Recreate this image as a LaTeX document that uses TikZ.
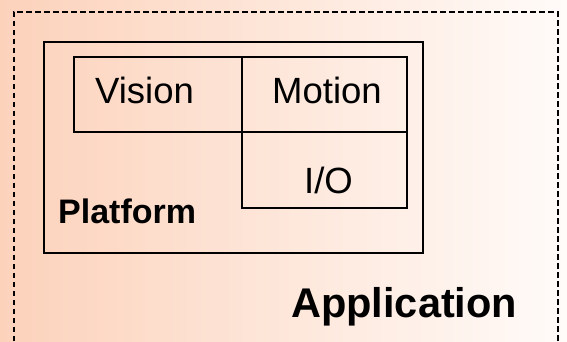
\documentclass[tikz,border=0pt]{standalone}
\usepackage{fontspec}
\setmainfont{Liberation Sans}
\definecolor{peach}{RGB}{252,210,187}
\definecolor{blush}{RGB}{255,251,249}
\begin{document}
\begin{tikzpicture}[x=1pt,y=-1pt,
		box/.style={rectangle,draw,line width=2.2pt,inner sep=0pt,anchor=north west},
		appbox/.style={rectangle,draw,dash pattern=on 5.5pt off 3.5pt,line width=1.8pt,inner sep=0pt,anchor=north west},
		lbl/.style={inner sep=0pt,anchor=base west,font=\fontsize{36.5}{40}\selectfont},
		title lbl/.style={lbl,font=\fontsize{34}{40}\selectfont\bfseries}]
\useasboundingbox (0,0) rectangle (567,342);
\shade[left color=peach,right color=blush] (0,0) rectangle (567,342);
% outer application frame (runs off the bottom)
\node[appbox,minimum width=544pt,minimum height=370pt] (app) at (13,11) {};
% platform and its parts
\node[box,minimum width=379pt,minimum height=211pt] (platform) at (43,41) {};
\node[box,minimum width=168pt,minimum height=75pt] (vision) at (73,56) {};
\node[box,minimum width=165pt,minimum height=75pt] (motion) at (241,56) {};
\node[box,minimum width=165pt,minimum height=76pt] (io) at (241,131) {};
% labels
\node[lbl] (visionlbl) at (95,103) {Vision};
\node[lbl] (motionlbl) at (272,103) {Motion};
\node[lbl] (iolbl) at (304,193) {I/O};
\node[title lbl] (platformlbl) at (58,223) {Platform};
\node[title lbl,font=\fontsize{41.5}{46}\selectfont\bfseries] (applbl) at (291,317) {Application};
\end{tikzpicture}
\end{document}
